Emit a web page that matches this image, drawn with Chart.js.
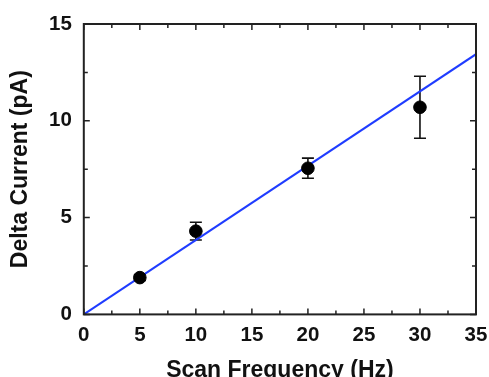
<!DOCTYPE html>
<html>
<head>
<meta charset="utf-8">
<script src="https://cdn.jsdelivr.net/npm/chart.js@4"></script>
<style>
  html, body { margin: 0; padding: 0; background: #fff; }
  #wrap { width: 489px; height: 377px; }
</style>
</head>
<body>
<div id="wrap"><canvas id="chart"></canvas></div>
<script>
// measured points
const freqs = [5, 10, 20, 30];
const current = [1.9, 4.3, 7.55, 10.7];
const currentErr = [0.15, 0.46, 0.52, 1.6];
// linear fit through origin
const fitX = [0, 35];
const fitY = [0, 13.44];

const xTicks = [0, 5, 10, 15, 20, 25, 30, 35];
const yTicks = [0, 5, 10, 15];

const frameColor = '#222';

// error bars, drawn under the markers
const errorBars = {
  id: 'errorBars',
  beforeDatasetsDraw(chart) {
    const { ctx, scales: { x, y } } = chart;
    ctx.save();
    ctx.strokeStyle = '#111';
    ctx.lineWidth = 1.6;
    freqs.forEach((f, i) => {
      const px = x.getPixelForValue(f);
      const top = y.getPixelForValue(current[i] + currentErr[i]);
      const bot = y.getPixelForValue(current[i] - currentErr[i]);
      ctx.beginPath();
      ctx.moveTo(px, top); ctx.lineTo(px, bot);
      ctx.moveTo(px - 6, top); ctx.lineTo(px + 6, top);
      ctx.moveTo(px - 6, bot); ctx.lineTo(px + 6, bot);
      ctx.stroke();
    });
    ctx.restore();
  }
};

// box frame with inward ticks on all four sides
const frameTicks = {
  id: 'frameTicks',
  afterDraw(chart) {
    const { ctx, chartArea: a, scales: { x, y } } = chart;
    ctx.save();
    ctx.strokeStyle = frameColor;
    ctx.lineWidth = 2;
    ctx.strokeRect(a.left, a.top, a.right - a.left, a.bottom - a.top);
    ctx.lineWidth = 1.5;
    ctx.beginPath();
    for (let v = 0; v <= 35; v += 2.5) {
      const len = v % 5 === 0 ? 6 : 4;
      const px = x.getPixelForValue(v);
      ctx.moveTo(px, a.bottom); ctx.lineTo(px, a.bottom - len);
      ctx.moveTo(px, a.top); ctx.lineTo(px, a.top + len);
    }
    for (let v = 0; v <= 15; v += 2.5) {
      const len = v % 5 === 0 ? 6 : 4;
      const py = y.getPixelForValue(v);
      ctx.moveTo(a.left, py); ctx.lineTo(a.left + len, py);
      ctx.moveTo(a.right, py); ctx.lineTo(a.right - len, py);
    }
    ctx.stroke();
    ctx.restore();
  }
};

const tickFont = { family: 'Liberation Sans, Arial, sans-serif', size: 20.5, weight: 'bold' };
const titleFont = { family: 'Liberation Sans, Arial, sans-serif', size: 23, weight: 'bold', lineHeight: 1.0 };

new Chart(document.getElementById('chart'), {
  data: {
    datasets: [
      {
        type: 'scatter',
        data: freqs.map((f, i) => ({ x: f, y: current[i] })),
        backgroundColor: '#000',
        borderColor: '#000',
        pointRadius: 6.3,
        pointHoverRadius: 6.3,
        order: 1,
      },
      {
        type: 'line',
        data: fitX.map((f, i) => ({ x: f, y: fitY[i] })),
        borderColor: '#1f3cff',
        borderWidth: 2,
        pointRadius: 0,
        fill: false,
        order: 2,
      },
    ],
  },
  options: {
    responsive: true,
    maintainAspectRatio: false,
    animation: false,
    layout: { padding: { top: 24, right: 13, left: 9, bottom: -5 } },
    plugins: { legend: { display: false }, tooltip: { enabled: false } },
    scales: {
      x: {
        type: 'linear',
        min: 0,
        max: 35,
        afterBuildTicks: (s) => { s.ticks = xTicks.map((v) => ({ value: v })); },
        afterFit: (s) => { s.paddingRight = 0; s.paddingLeft = 0; },
        grid: { display: false, drawTicks: false },
        border: { display: false },
        ticks: { color: '#111', font: tickFont, padding: 9, maxRotation: 0 },
        title: { display: true, text: 'Scan Frequency (Hz)', color: '#111', font: titleFont, padding: { top: 2, bottom: 0 } },
      },
      y: {
        type: 'linear',
        min: 0,
        max: 15,
        afterBuildTicks: (s) => { s.ticks = yTicks.map((v) => ({ value: v })); },
        afterFit: (s) => { s.paddingTop = 0; s.paddingBottom = 0; },
        grid: { display: false, drawTicks: false },
        border: { display: false },
        ticks: { color: '#111', font: tickFont, padding: 12 },
        title: { display: true, text: 'Delta Current (pA)', color: '#111', font: titleFont, padding: { top: 0, bottom: 5 } },
      },
    },
  },
  plugins: [errorBars, frameTicks],
});
</script>
</body>
</html>
